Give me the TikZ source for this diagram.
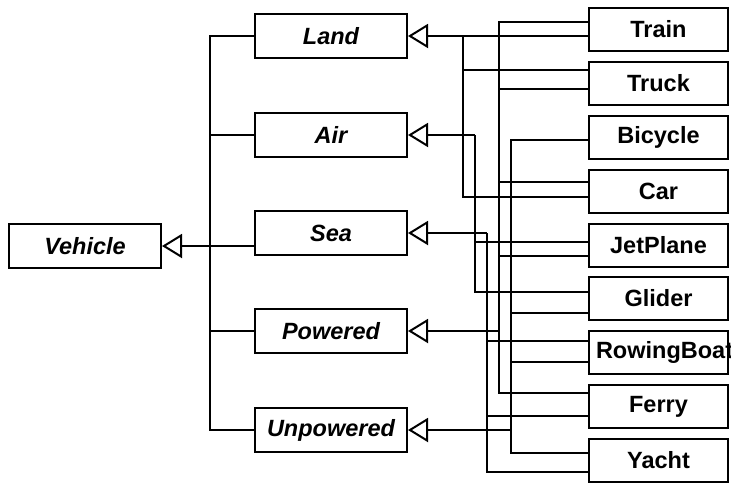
\documentclass[tikz,border=0pt]{standalone}
\usepackage{fontspec}
\setmainfont{Liberation Sans}
\usetikzlibrary{arrows.meta,calc}
\tikzset{
  cls/.style={draw,line width=2pt,inner sep=0pt,minimum height=44pt,
    font=\fontsize{23.5}{27}\selectfont\bfseries},
  absclass/.style={cls,minimum width=152pt,
    font=\fontsize{23.5}{27}\selectfont\bfseries\itshape},
  leaf/.style={cls,minimum width=139pt,minimum height=43pt},
  inh/.style={-{Triangle[open,length=20pt,width=24pt]}}
}

\begin{document}
\begin{tikzpicture}[x=1pt,y=-1pt,line width=2pt]
  \useasboundingbox (0,0) rectangle (731,482);
  \node[absclass] (Vehicle) at (85,246) {Vehicle};
  \foreach \n/\y in {Land/36,Air/135,Sea/233,Powered/331,Unpowered/430}
    \node[absclass] (\n) at (331,\y) {\n};
  \foreach \n/\y/\txt in {Train/29.5/Train,Truck/83.5/Truck,Bicycle/137.5/Bicycle,
      Car/191.5/Car,JetPlane/245.5/JetPlane,Glider/298.5/Glider,
      RowingBoat/352.5/\makebox[125pt][l]{RowingBoat},Ferry/406.5/Ferry,Yacht/460.5/Yacht}
    \node[leaf] (\n) at (658.5,\y) {\txt};
  % bus lines
  \coordinate (bV) at (210,0);
  \coordinate (bL) at (463,0);
  \coordinate (bA) at (475,0);
  \coordinate (bS) at (487,0);
  \coordinate (bP) at (499,0);
  \coordinate (bU) at (511,0);
  % Vehicle
  \draw[inh] (Sea.west |- Vehicle.east) -- (Vehicle.east);
  \foreach \n in {Land,Air,Powered,Unpowered}
    \draw (\n.west) -| (bV |- Vehicle.east);
  % Land
  \draw[inh] (Train.west |- Land.east) -- (Land.east);
  \foreach \n/\d in {Truck/-13.5,Car/5.5}
    \draw ($(\n.west)+(0,\d)$) -| (bL |- Land.east);
  % Air
  \draw[inh] (bA |- Air.east) -- (Air.east);
  \foreach \n/\d in {JetPlane/-3.5,Glider/-6.5}
    \draw ($(\n.west)+(0,\d)$) -| (bA |- Air.east);
  % Sea
  \draw[inh] (bS |- Sea.east) -- (Sea.east);
  \foreach \n/\d in {RowingBoat/-11.5,Ferry/9.5,Yacht/11.5}
    \draw ($(\n.west)+(0,\d)$) -| (bS |- Sea.east);
  % Powered
  \draw[inh] (bP |- Powered.east) -- (Powered.east);
  \foreach \n/\d in {Train/-7.5,Truck/5.5,Car/-9.5,JetPlane/10.5,Ferry/-13.5}
    \draw ($(\n.west)+(0,\d)$) -| (bP |- Powered.east);
  % Unpowered
  \draw[inh] (bU |- Unpowered.east) -- (Unpowered.east);
  \foreach \n/\d in {Bicycle/2.5,Glider/14.5,RowingBoat/9.5,Yacht/-7.5}
    \draw ($(\n.west)+(0,\d)$) -| (bU |- Unpowered.east);
\end{tikzpicture}
\end{document}
